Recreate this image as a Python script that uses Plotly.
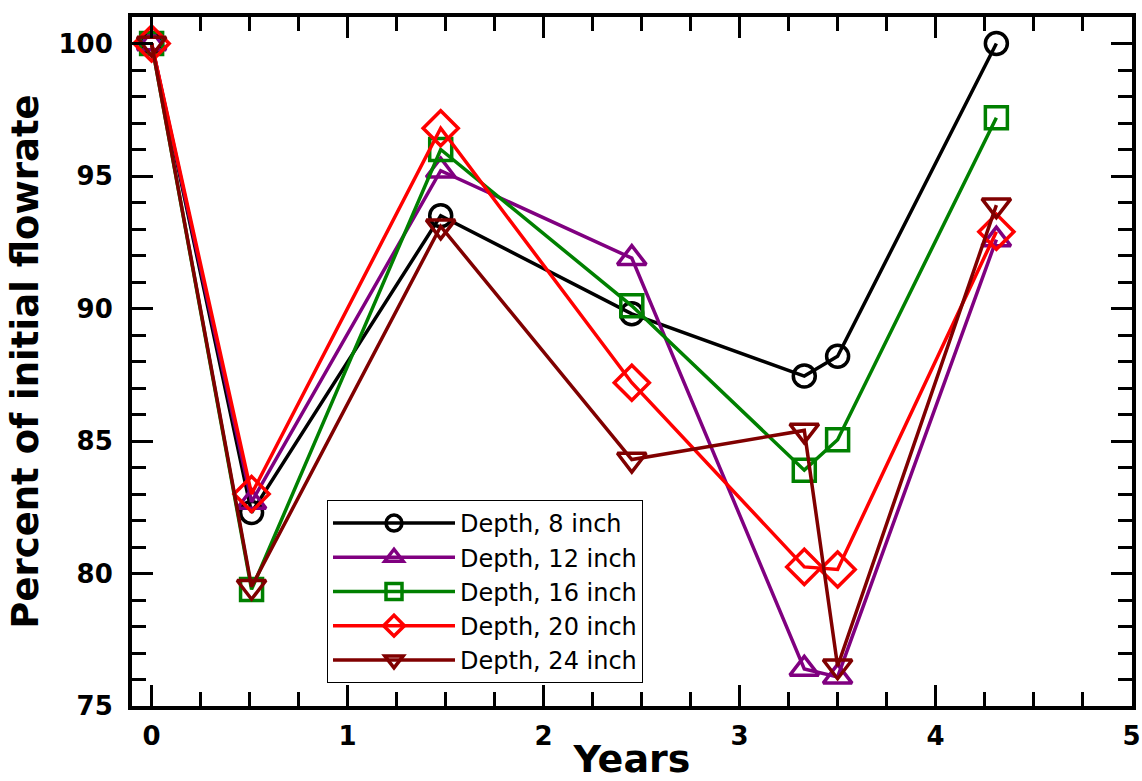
import plotly.graph_objects as go

years = [0, 0.51, 1.475, 2.45, 3.33, 3.5, 4.31]
depth8 = [100, 82.3, 93.5, 89.8, 87.45, 88.2, 100]
depth12 = [100, 82.7, 95.2, 91.9, 76.4, 76.1, 92.6]
depth16 = [100, 79.4, 96.0, 90.1, 83.9, 85.05, 97.2]
depth20 = [100, 83.0, 96.8, 87.2, 80.25, 80.15, 92.9]
depth24 = [100, 79.5, 93.1, 84.3, 85.4, 76.5, 93.9]

names = ["Depth, 8 inch", "Depth, 12 inch", "Depth, 16 inch", "Depth, 20 inch", "Depth, 24 inch"]
colors = ["#000000", "#800080", "#008000", "#ff0000", "#800000"]
symbols = ["circle-open", "triangle-up-open", "square-open", "diamond-open", "triangle-down-open"]
sizes = [22, 25, 22, 27, 25]
series = [depth8, depth12, depth16, depth20, depth24]

fig = go.Figure()
for n, c, s, sz, ys in zip(names, colors, symbols, sizes, series):
    fig.add_trace(go.Scatter(
        x=years, y=ys, name=n, mode="lines+markers",
        line=dict(color=c, width=3.5),
        marker=dict(symbol=s, size=sz, color=c, line=dict(color=c, width=3.5)),
    ))

axis_common = dict(
    showline=True, linecolor="black", linewidth=4, mirror="allticks",
    ticks="inside", tickcolor="black", tickwidth=3, ticklen=21,
    showgrid=False, zeroline=False,
    tickfont=dict(family="DejaVu Sans", size=26, color="black", weight="bold"),
)

fig.update_xaxes(
    range=[-0.1, 5.002], dtick=1, tick0=0,
    minor=dict(dtick=0.25, ticks="inside", ticklen=14, tickwidth=3, tickcolor="black", showgrid=False),
    title=dict(text="Years", font=dict(family="DejaVu Sans", size=38, color="black", weight="bold"), standoff=0),
    ticklabelstandoff=4, ticklabeloverflow="allow",
    **axis_common,
)
fig.update_yaxes(
    range=[75, 101], dtick=5, tick0=75,
    minor=dict(dtick=1, ticks="inside", ticklen=14, tickwidth=3, tickcolor="black", showgrid=False),
    title=dict(text="Percent of initial flowrate", font=dict(family="DejaVu Sans", size=37, color="black", weight="bold"), standoff=10),
    ticklabelstandoff=10,
    **axis_common,
)

fig.update_layout(
    width=1142, height=781,
    margin=dict(l=132, r=10, t=17, b=75, autoexpand=False),
    paper_bgcolor="white", plot_bgcolor="white",
    legend=dict(
        x=0.195, y=0.299, xanchor="left", yanchor="top",
        bordercolor="black", borderwidth=1, bgcolor="white",
        font=dict(family="DejaVu Sans", size=24, color="black"),
        tracegroupgap=0, itemwidth=122,
    ),
    showlegend=True,
)

fig.write_html(
    "out.html",
    config={"displayModeBar": False},
    post_script="document.body.style.margin='0';document.body.style.overflow='hidden';",
)
